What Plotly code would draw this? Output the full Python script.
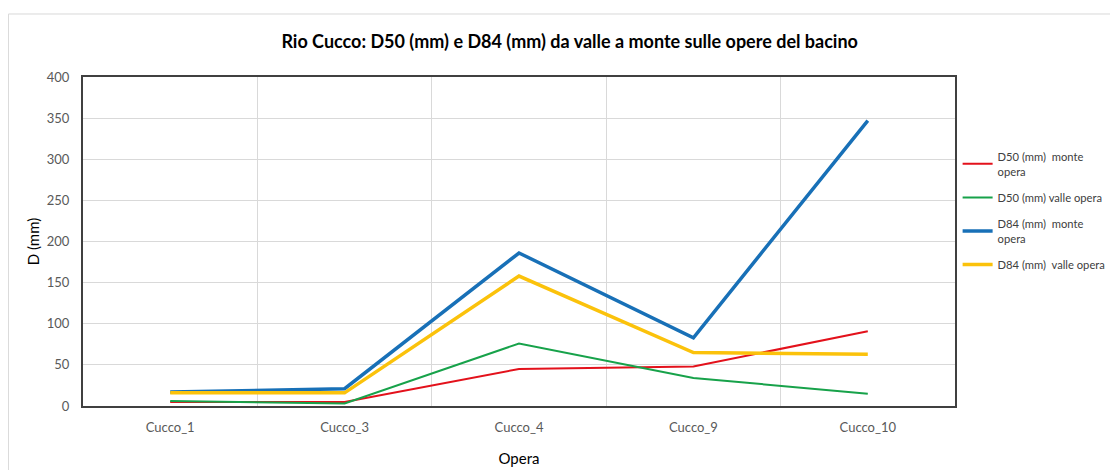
import plotly.graph_objects as go

opere = ["Cucco_1", "Cucco_3", "Cucco_4", "Cucco_9", "Cucco_10"]

d50_monte = [5, 5, 45, 48, 91]
d50_valle = [6, 3, 76, 34, 15]
d84_monte = [17, 21, 186, 83, 347]
d84_valle = [16, 16, 158, 65, 63]

series = [
    ("D50 (mm)  monte<br>opera", d50_monte, "#e3111b", 2),
    ("D50 (mm) valle opera", d50_valle, "#17a24a", 2),
    ("D84 (mm)  monte<br>opera", d84_monte, "#1870b7", 3.5),
    ("D84 (mm)  valle opera", d84_valle, "#fbc20b", 3.5),
]

fig = go.Figure()
for i, (name, vals, color, w) in enumerate(series):
    fig.add_trace(go.Scatter(
        x=opere, y=vals, mode="lines", name=name, legendgroup=f"g{i}",
        line=dict(color=color, width=w),
    ))

# light outer frame of the chart area (open on right/bottom, runs off the page)
fig.add_shape(
    type="rect", xref="paper", yref="paper",
    x0=-0.0855, x1=1.3, y0=-0.4, y1=1.1915,
    line=dict(color="#d9d9d9", width=1), layer="below",
)

fig.update_layout(
    width=1110, height=462,
    paper_bgcolor="white", plot_bgcolor="white",
    font=dict(family="Lato, 'Open Sans', sans-serif", color="#595959", size=12),
    margin=dict(l=75, r=163, t=69, b=64, autoexpand=False),
    title=dict(
        text="Rio Cucco: D50 (mm) e D84 (mm) da valle a monte sulle opere del bacino",
        x=0.506, xanchor="center", y=0.926, yanchor="middle",
        font=dict(size=18, color="#000000", family="Lato, sans-serif", weight="bold"),
    ),
    xaxis=dict(
        title=dict(text="Opera", font=dict(size=15, color="#000000"), standoff=20),
        type="category", range=[-0.5, 4.5], tickson="boundaries", automargin=False,
        showgrid=True, gridcolor="#d9d9d9", gridwidth=1,
        showline=True, linecolor="#404040", linewidth=2, mirror=True,
        ticks="", ticklabelstandoff=8, tickfont=dict(size=13, color="#595959"),
    ),
    yaxis=dict(
        title=dict(text="D (mm)", font=dict(size=15, color="#000000"), standoff=4),
        range=[0, 400], dtick=50, tick0=0, automargin=False,
        showgrid=True, gridcolor="#d9d9d9", gridwidth=1,
        showline=True, linecolor="#404040", linewidth=2, mirror=True,
        ticks="", zeroline=False, ticklabelstandoff=9,
        tickfont=dict(size=13, color="#595959"),
    ),
    legend=dict(
        x=1.003, xanchor="left", y=0.8, yanchor="top",
        font=dict(size=11.2, color="#404040"),
        bgcolor="rgba(0,0,0,0)", tracegroupgap=8,
    ),
    showlegend=True,
)

fig.write_html("out.html")
